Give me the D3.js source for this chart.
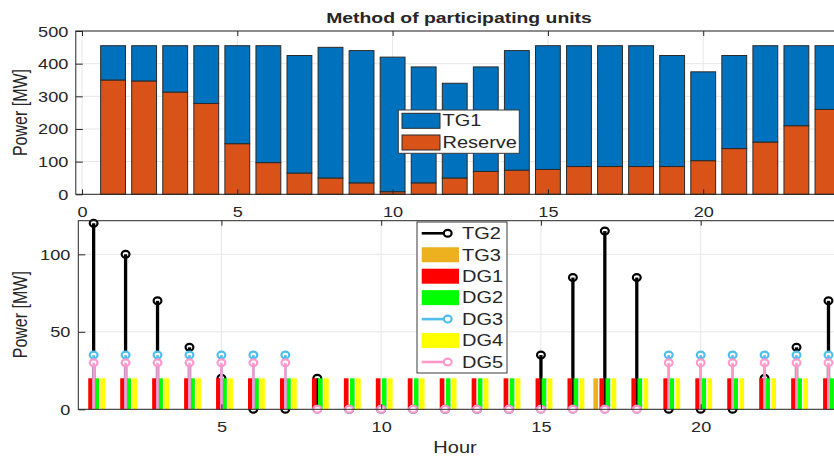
<!DOCTYPE html>
<html>
<head>
<meta charset="utf-8">
<script src="https://cdn.jsdelivr.net/npm/d3@7"></script>
<style>
  body { margin: 0; background: #fff; }
  svg { display: block; }
  text { font-family: "Liberation Sans", Arial, Helvetica, sans-serif; fill: #262626; }
</style>
</head>
<body>
<svg id="fig" width="834" height="457"></svg>
<script>
// ---- data ----
const hours   = [1,2,3,4,5,6,7,8,9,10,11,12,13,14,15,16,17,18,19,20,21,22,23,24];
const reserve = [350,347,313,278,155,97,65,50,35,8,35,50,70,74,76,85,85,85,85,103,140,160,210,260];
const tg1     = [105,108,142,177,300,358,360,400,405,412,355,290,320,366,379,370,370,370,340,272,285,295,245,195];
const tg2     = [120,100,70,40,20,0,0,20,0,0,0,0,0,0,35,85,115,85,0,0,0,20,40,70];
const tg3     = [0,0,0,0,0,0,0,0,0,0,0,0,0,0,0,0,20,0,0,0,0,0,0,0];
const dg1     = [20,20,20,20,20,20,20,20,20,20,20,20,20,20,20,20,20,20,20,20,20,20,20,20];
const dg2     = [20,20,20,20,20,20,20,20,20,20,20,20,20,20,20,20,20,20,20,20,20,20,20,20];
const dg3     = [35,35,35,35,35,35,35,0,0,0,0,0,0,0,0,0,0,0,35,35,35,35,35,35];
const dg4     = [20,20,20,20,20,20,20,20,20,20,20,20,20,20,20,20,20,20,20,20,20,20,20,20];
const dg5     = [30,30,30,30,30,30,30,0,0,0,0,0,0,0,0,0,0,0,30,30,30,30,30,30];

const topXTicks = [0,5,10,15,20];
const topYTicks = [0,100,200,300,400,500];
const botXTicks = [5,10,15,20];
const botYTicks = [0,50,100];

// ---- style ----
const SX = 1.25;            // horizontal glyph stretch of the figure's text
const AX = "#262626";
const GRID = "#e6e6e6";
const C = {
  tg1: "#0072BD", reserve: "#D95319",
  tg2: "#000000", tg3: "#EDB120", dg1: "#FF0000", dg2: "#00FF00",
  dg3: "#4DBEEE", dg4: "#FFFF00", dg5: "#FF99CC"
};

const svg = d3.select("#fig");

function stretchText(sel, x, y) {
  sel.attr("x", 0).attr("y", 0).attr("transform", `translate(${x},${y}) scale(${SX},1)`);
}

// ================= upper panel =================
const xT = d3.scaleLinear().domain([-0.2, 25.2]).range([75.8, 75.8 + 25.4 * 31.06]);
const yT = d3.scaleLinear().domain([0, 500]).range([194.3, 31]);
const gTop = svg.append("g");

// grid
gTop.append("g").selectAll("line.gx").data(topXTicks).join("line")
  .attr("x1", d => xT(d)).attr("x2", d => xT(d)).attr("y1", yT(0)).attr("y2", yT(500))
  .attr("stroke", GRID).attr("stroke-width", 1);
gTop.append("g").selectAll("line.gy").data(topYTicks).join("line")
  .attr("x1", xT.range()[0]).attr("x2", xT.range()[1]).attr("y1", d => yT(d)).attr("y2", d => yT(d))
  .attr("stroke", GRID).attr("stroke-width", 1);

// stacked bars: reserve at the bottom, TG1 above
const rows = hours.map((h, i) => ({ hour: h, reserve: reserve[i], tg1: tg1[i] }));
const stack = d3.stack().keys(["reserve", "tg1"])(rows);
const barW = xT(0.8) - xT(0);
gTop.append("g").selectAll("g").data(stack).join("g")
  .attr("fill", d => C[d.key])
  .selectAll("rect").data(d => d).join("rect")
  .attr("x", d => xT(d.data.hour) - barW / 2)
  .attr("width", barW)
  .attr("y", d => yT(d[1]))
  .attr("height", d => yT(d[0]) - yT(d[1]))
  .attr("stroke", "#2a2a2a").attr("stroke-width", 1);

// box
gTop.append("rect")
  .attr("x", xT.range()[0]).attr("y", yT(500))
  .attr("width", xT.range()[1] - xT.range()[0]).attr("height", yT(0) - yT(500))
  .attr("fill", "none").attr("stroke", AX).attr("stroke-width", 1);

// axes
const axTB = gTop.append("g").attr("transform", `translate(0,${yT(0)})`)
  .call(d3.axisBottom(xT).tickValues(topXTicks).tickSizeInner(-5).tickSizeOuter(0).tickPadding(0));
const axTT = gTop.append("g").attr("transform", `translate(0,${yT(500)})`)
  .call(d3.axisTop(xT).tickValues(topXTicks).tickSizeInner(-5).tickSizeOuter(0).tickFormat(""));
const axTL = gTop.append("g").attr("transform", `translate(${xT.range()[0]},0)`)
  .call(d3.axisLeft(yT).tickValues(topYTicks).tickSizeInner(-7).tickSizeOuter(0));
[axTB, axTT, axTL].forEach(a => {
  a.select(".domain").remove();
  a.selectAll("line").attr("stroke", AX);
});
axTB.selectAll("text").attr("font-size", 14.5).attr("dy", null).each(function () { stretchText(d3.select(this), 0, 22.5); });
axTL.selectAll("text").attr("font-size", 14.5).attr("dy", null).attr("text-anchor", "end")
  .each(function () { stretchText(d3.select(this), -7.5, 5); });

// title and y label
stretchText(svg.append("text").attr("text-anchor", "middle").attr("font-size", 15.5)
  .attr("font-weight", "bold").attr("fill", "#000").text("Method of participating units"), 459, 22.5);
svg.append("text").attr("text-anchor", "middle").attr("font-size", 16)
  .attr("transform", `translate(27,112.5) scale(${SX},1) rotate(-90)`).text("Power [MW]");

// legend
const lgT = svg.append("g");
lgT.append("rect").attr("x", 398.3).attr("y", 110).attr("width", 121).attr("height", 43.3)
  .attr("fill", "#fff").attr("stroke", "#3a3a3a").attr("stroke-width", 1);
[["TG1", C.tg1, 113.3], ["Reserve", C.reserve, 135]].forEach(([lab, col, y]) => {
  lgT.append("rect").attr("x", 402).attr("y", y).attr("width", 38).attr("height", 15)
    .attr("fill", col).attr("stroke", "#2a2a2a").attr("stroke-width", 1);
  stretchText(lgT.append("text").attr("font-size", 16).attr("fill", "#000").text(lab), 442.5, y + 13);
});

// ================= lower panel =================
const xB = d3.scaleLinear().domain([0.52, 24.5]).range([78.3, 78.3 + 23.98 * 31.95]);
const yB = d3.scaleLinear().domain([0, 121.7]).range([409.3, 220.7]);
const gBot = svg.append("g");

gBot.append("g").selectAll("line").data(botXTicks).join("line")
  .attr("x1", d => xB(d)).attr("x2", d => xB(d)).attr("y1", yB(0)).attr("y2", yB(121.7))
  .attr("stroke", GRID).attr("stroke-width", 1);
gBot.append("g").selectAll("line").data(botYTicks).join("line")
  .attr("x1", xB.range()[0]).attr("x2", xB.range()[1]).attr("y1", d => yB(d)).attr("y2", d => yB(d))
  .attr("stroke", GRID).attr("stroke-width", 1);

function stems(values, color, width) {
  const g = gBot.append("g");
  g.selectAll("ellipse").data(values).join("ellipse")
    .attr("cx", (d, i) => xB(hours[i])).attr("cy", d => yB(d))
    .attr("rx", 3.9).attr("ry", 3.4)
    .attr("fill", "#fff").attr("stroke", color).attr("stroke-width", 2.2);
  g.selectAll("line").data(values).join("line")
    .attr("x1", (d, i) => xB(hours[i])).attr("x2", (d, i) => xB(hours[i]))
    .attr("y1", yB(0)).attr("y2", d => yB(d))
    .attr("stroke", color).attr("stroke-width", width);
}

// TG2 stems drawn beneath the grouped bars
stems(tg2, C.tg2, 3.3);

// grouped bars
const groups = [["TG3", tg3, C.tg3], ["DG1", dg1, C.dg1], ["DG2", dg2, C.dg2], ["DG4", dg4, C.dg4]];
const inner = d3.scaleBand().domain(groups.map(g => g[0])).range([-0.3585, 0.3585]).paddingInner(0.226);
const bw = xB(inner.bandwidth()) - xB(0);
groups.forEach(([key, vals, col]) => {
  gBot.append("g").selectAll("rect").data(vals).join("rect")
    .attr("x", (d, i) => xB(hours[i] + inner(key)))
    .attr("width", bw)
    .attr("y", d => yB(d))
    .attr("height", d => yB(0) - yB(d))
    .attr("fill", col);
});

stems(dg3, C.dg3, 2.6);
stems(dg5, C.dg5, 2.6);

gBot.append("rect")
  .attr("x", xB.range()[0]).attr("y", yB(121.7))
  .attr("width", xB.range()[1] - xB.range()[0]).attr("height", yB(0) - yB(121.7))
  .attr("fill", "none").attr("stroke", AX).attr("stroke-width", 1);

const axBB = gBot.append("g").attr("transform", `translate(0,${yB(0)})`)
  .call(d3.axisBottom(xB).tickValues(botXTicks).tickSizeInner(-5).tickSizeOuter(0));
const axBT = gBot.append("g").attr("transform", `translate(0,${yB(121.7)})`)
  .call(d3.axisTop(xB).tickValues(botXTicks).tickSizeInner(-5).tickSizeOuter(0).tickFormat(""));
const axBL = gBot.append("g").attr("transform", `translate(${xB.range()[0]},0)`)
  .call(d3.axisLeft(yB).tickValues(botYTicks).tickSizeInner(-7).tickSizeOuter(0));
[axBB, axBT, axBL].forEach(a => {
  a.select(".domain").remove();
  a.selectAll("line").attr("stroke", AX);
});
axBB.selectAll("text").attr("font-size", 14.5).attr("dy", null).each(function () { stretchText(d3.select(this), 0, 22.5); });
axBL.selectAll("text").attr("font-size", 14.5).attr("dy", null).attr("text-anchor", "end")
  .each(function () { stretchText(d3.select(this), -8, 5); });

stretchText(svg.append("text").attr("text-anchor", "middle").attr("font-size", 16).text("Hour"), 455, 453);
svg.append("text").attr("text-anchor", "middle").attr("font-size", 16)
  .attr("transform", `translate(27,314.7) scale(${SX},1) rotate(-90)`).text("Power [MW]");

// legend
const lgB = svg.append("g");
lgB.append("rect").attr("x", 417).attr("y", 222).attr("width", 90).attr("height", 151)
  .attr("fill", "#fff").attr("stroke", "#3a3a3a").attr("stroke-width", 1);
const entries = [
  ["TG2", C.tg2, "stem"], ["TG3", C.tg3, "patch"], ["DG1", C.dg1, "patch"], ["DG2", C.dg2, "patch"],
  ["DG3", C.dg3, "stem"], ["DG4", C.dg4, "patch"], ["DG5", C.dg5, "stem"]
];
entries.forEach(([lab, col, kind], i) => {
  const cy = 233.3 + i * 21.45;
  if (kind === "patch") {
    lgB.append("rect").attr("x", 421.7).attr("y", cy - 7.5).attr("width", 37.3).attr("height", 15).attr("fill", col);
  } else {
    lgB.append("line").attr("x1", 421.7).attr("x2", 447.7).attr("y1", cy).attr("y2", cy)
      .attr("stroke", col).attr("stroke-width", 2.6);
    lgB.append("ellipse").attr("cx", 447.7).attr("cy", cy).attr("rx", 3.9).attr("ry", 3.4)
      .attr("fill", "#fff").attr("stroke", col).attr("stroke-width", 2.2);
  }
  stretchText(lgB.append("text").attr("font-size", 16).attr("fill", "#000").text(lab), 462, cy + 5.8);
});
</script>
</body>
</html>
